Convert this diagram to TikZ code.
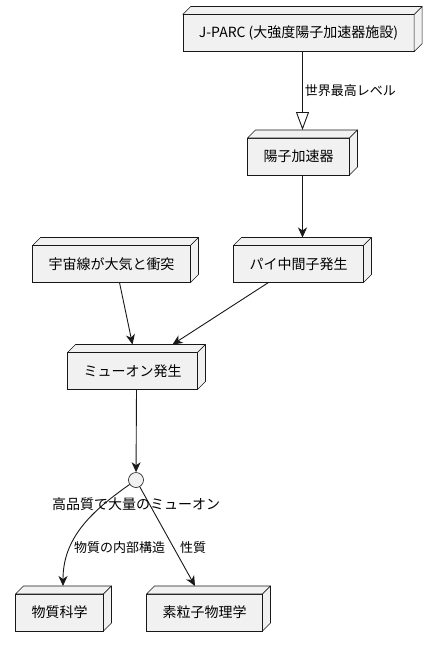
\documentclass[tikz,border=0pt]{standalone}
\usepackage{fontspec}
\setmainfont{Noto Sans CJK JP}
\usetikzlibrary{arrows.meta}
\definecolor{boxgray}{HTML}{F1F1F1}
\definecolor{linegray}{HTML}{181818}

\begin{document}
\begin{tikzpicture}[x=1pt, y=-1pt,
    box/.style={draw=linegray, fill=boxgray, line width=0.6pt, minimum height=37pt,
      inner xsep=16pt, outer sep=0pt, font=\fontsize{14}{16}\selectfont},
    face/.style={draw=linegray, fill=boxgray, line width=0.6pt, line join=round},
    link/.style={draw=linegray, line width=0.9pt, -{Stealth[length=10pt, width=9pt, inset=3pt]}},
    lbl/.style={font=\fontsize{13}{15}\selectfont, inner sep=0pt}]
    \useasboundingbox (0,0) rectangle (440,648);
    % deployment nodes
    \node[box] (jparc) at (298.5,33) {J-PARC (大強度陽子加速器施設)};
    \node[box] (accel) at (298.5,156.5) {陽子加速器};
    \node[box] (cosmic) at (111.5,264) {宇宙線が大気と衝突};
    \node[box] (pion) at (298.5,264) {パイ中間子発生};
    \node[box] (muon) at (132.5,371) {ミューオン発生};
    \node[box] (matsci) at (59.5,612.5) {物質科学};
    \node[box] (particle) at (204.5,612.5) {素粒子物理学};
    \node[circle, draw=linegray, fill=boxgray, line width=0.6pt, minimum size=15pt, inner sep=0pt] (hub) at (136,480) {};
    % 3d faces
    \foreach \n in {jparc,accel,cosmic,pion,muon,matsci,particle} {
      \filldraw[face] (\n.north west) -- ++(8,-8) -- ([shift={(8,-8)}]\n.north east) -- (\n.north east) -- cycle;
      \filldraw[face] (\n.north east) -- ([shift={(8,-8)}]\n.north east) -- ([shift={(8,-8)}]\n.south east) -- (\n.south east) -- cycle;
    }
    % links
    \draw[draw=linegray, line width=0.9pt, -{Triangle[open, length=18pt, width=13pt]}] ([xshift=4pt]jparc.south) -- ([xshift=4pt,yshift=8pt]accel.north)
      node[lbl, anchor=west, pos=0.5, xshift=2pt] {世界最高レベル};
    \draw[link] ([xshift=4pt]accel.south) -- ([xshift=4pt,yshift=8pt]pion.north);
    \draw[link] ([xshift=8pt]cosmic.south) -- ([yshift=8pt]muon.north);
    \draw[link] ([xshift=-30pt]pion.south) -- ([xshift=40pt,yshift=8pt]muon.north);
    \draw[link] ([xshift=4pt]muon.south) -- (hub);
    \draw[link] (hub) to[out=215, in=90] ([xshift=3.5pt,yshift=8pt]matsci.north);
    \draw[link] (hub) -- ([xshift=-9.5pt,yshift=8pt]particle.north);
    % labels
    \node[lbl, font=\fontsize{14}{16}\selectfont] (hubtext) at (136,504) {高品質で大量のミューオン};
    \node[lbl, anchor=west] (mattext) at (74,548) {物質の内部構造};
    \node[lbl, anchor=west] (proptext) at (180,548) {性質};
\end{tikzpicture}
\end{document}
